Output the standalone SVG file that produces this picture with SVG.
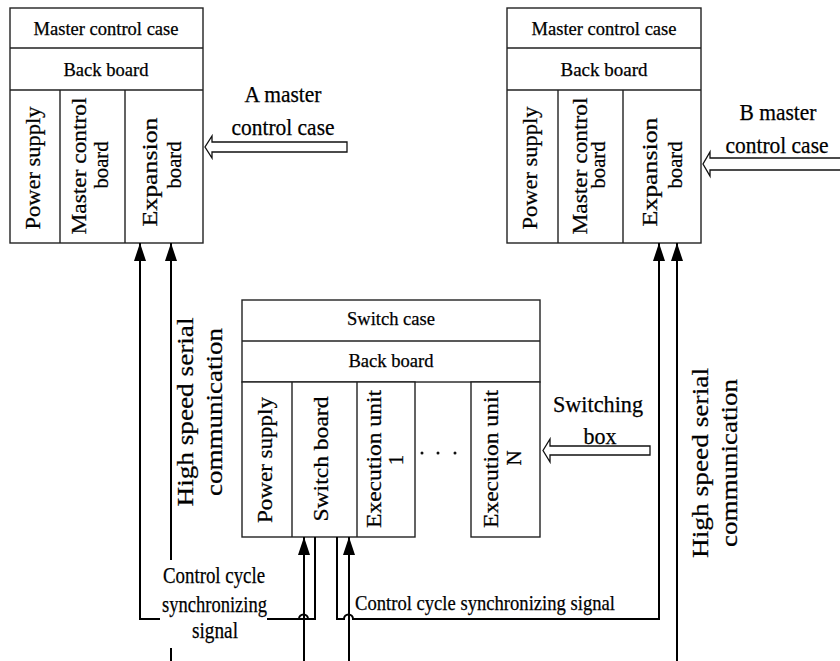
<svg xmlns="http://www.w3.org/2000/svg" width="840" height="661" viewBox="0 0 840 661" font-family="'Liberation Serif', 'Times New Roman', serif">
<defs>
<style>
text{font-family:'Liberation Serif','Times New Roman',serif;fill:#000;stroke:#000;stroke-width:0.25;}
.box{fill:#fff;stroke:#222;stroke-width:1.4;}
.ln{stroke:#222;stroke-width:1.4;fill:none;}
.t18{font-size:19px;text-anchor:middle;}
.tv{font-size:21px;text-anchor:middle;}
.t22{font-size:23px;text-anchor:middle;}
.con{stroke:#000;stroke-width:2;fill:none;}
.hollow{fill:#fff;stroke:#111;stroke-width:1.3;}
</style>
<marker id="ah" markerUnits="userSpaceOnUse" markerWidth="18" markerHeight="12" refX="18" refY="6" orient="auto">
<path d="M0,0 L18,6 L0,12 Z" fill="#000"/>
</marker>
</defs>
<rect width="840" height="661" fill="#fff"/>

<g id="masterA">
<rect class="box" x="10" y="8" width="193" height="235"/>
<path class="ln" d="M10,48 H203 M10,90 H203 M60,90 V243 M125,90 V243"/>
<text class="t18" x="106" y="35" textLength="145" lengthAdjust="spacingAndGlyphs">Master control case</text>
<text class="t18" x="106" y="76" textLength="85" lengthAdjust="spacingAndGlyphs">Back board</text>
<text class="tv" transform="translate(40,168) rotate(-90)" textLength="123" lengthAdjust="spacingAndGlyphs">Power supply</text>
<text class="tv" transform="translate(86,166) rotate(-90)" textLength="137" lengthAdjust="spacingAndGlyphs">Master control</text>
<text class="tv" transform="translate(108,165) rotate(-90)" textLength="47" lengthAdjust="spacingAndGlyphs">board</text>
<text class="tv" transform="translate(157,172) rotate(-90)" textLength="109" lengthAdjust="spacingAndGlyphs">Expansion</text>
<text class="tv" transform="translate(181,165) rotate(-90)" textLength="47" lengthAdjust="spacingAndGlyphs">board</text>
</g>

<g id="masterB">
<rect class="box" x="507" y="8" width="194" height="235"/>
<path class="ln" d="M507,48 H701 M507,90 H701 M558,90 V243 M623,90 V243"/>
<text class="t18" x="604" y="35" textLength="145" lengthAdjust="spacingAndGlyphs">Master control case</text>
<text class="t18" x="604" y="76" textLength="87" lengthAdjust="spacingAndGlyphs">Back board</text>
<text class="tv" transform="translate(537,168) rotate(-90)" textLength="123" lengthAdjust="spacingAndGlyphs">Power supply</text>
<text class="tv" transform="translate(587,166) rotate(-90)" textLength="137" lengthAdjust="spacingAndGlyphs">Master control</text>
<text class="tv" transform="translate(605,165) rotate(-90)" textLength="47" lengthAdjust="spacingAndGlyphs">board</text>
<text class="tv" transform="translate(657,172) rotate(-90)" textLength="109" lengthAdjust="spacingAndGlyphs">Expansion</text>
<text class="tv" transform="translate(682,165) rotate(-90)" textLength="47" lengthAdjust="spacingAndGlyphs">board</text>
</g>

<g id="switchCase">
<rect class="box" x="242" y="300" width="298" height="82"/>
<path class="ln" d="M242,341 H540"/>
<rect class="box" x="242" y="382" width="173" height="155"/>
<path class="ln" d="M292,382 V537 M357,382 V537"/>
<rect class="box" x="471" y="382" width="69" height="155"/>
<text class="t18" x="391" y="325" textLength="88" lengthAdjust="spacingAndGlyphs">Switch case</text>
<text class="t18" x="391" y="367" textLength="85" lengthAdjust="spacingAndGlyphs">Back board</text>
<text class="tv" transform="translate(272,460) rotate(-90)" textLength="126" lengthAdjust="spacingAndGlyphs">Power supply</text>
<text class="tv" transform="translate(328,459) rotate(-90)" textLength="125" lengthAdjust="spacingAndGlyphs">Switch board</text>
<text class="tv" transform="translate(381,459) rotate(-90)" textLength="138" lengthAdjust="spacingAndGlyphs">Execution unit</text>
<text class="tv" transform="translate(403,460) rotate(-90)">1</text>
<text class="tv" transform="translate(498,459) rotate(-90)" textLength="138" lengthAdjust="spacingAndGlyphs">Execution unit</text>
<text class="tv" transform="translate(521,458) rotate(-90)">N</text>
<circle cx="422" cy="453" r="1.5" fill="#111"/>
<circle cx="438" cy="453" r="1.5" fill="#111"/>
<circle cx="455" cy="453" r="1.5" fill="#111"/>
</g>

<g id="labelA">
<path class="hollow" d="M347,142 L212,142 L212,136 L205,147 L212,158 L212,152 L347,152 Z"/>
<text class="t22" x="283" y="102" textLength="77" lengthAdjust="spacingAndGlyphs">A master</text>
<text class="t22" x="283" y="135" textLength="103" lengthAdjust="spacingAndGlyphs">control case</text>
</g>

<g id="labelB">
<path class="hollow" d="M846,158 L710,158 L710,152 L703,164 L710,176 L710,170 L846,170 Z"/>
<text class="t22" x="778" y="120" textLength="77" lengthAdjust="spacingAndGlyphs">B master</text>
<text class="t22" x="777" y="153" textLength="103" lengthAdjust="spacingAndGlyphs">control case</text>
</g>

<g id="labelSwitch">
<path class="hollow" d="M650,446 L550,446 L550,439 L543,450.5 L550,462 L550,455 L650,455 Z"/>
<text class="t22" x="598" y="412" textLength="90" lengthAdjust="spacingAndGlyphs">Switching</text>
<text class="t22" x="600" y="444" textLength="33" lengthAdjust="spacingAndGlyphs">box</text>
</g>

<g id="connectors">
<path class="con" d="M315,537 V619 H267" />
<path class="con" d="M160,619 H140 V243" marker-end="url(#ah)"/>
<path class="con" d="M171,661 V648"/>
<path class="con" d="M171,560 V243" marker-end="url(#ah)"/>
<path class="con" d="M304,661 V537" marker-end="url(#ah)"/>
<path class="con" d="M349,661 V537" marker-end="url(#ah)"/>
<path class="con" d="M267,619 H299 A4.5,4.5 0 0 1 308,619 H315"/>
<path class="con" d="M337,537 V619 H344 A4.5,4.5 0 0 1 353,619 H659 V243" marker-end="url(#ah)"/>
<path class="con" d="M677,661 V243" marker-end="url(#ah)"/>
</g>

<g id="labelHS1">
<text class="t22" transform="translate(193,412) rotate(-90)" textLength="189" lengthAdjust="spacingAndGlyphs">High speed serial</text>
<text class="t22" transform="translate(222,412) rotate(-90)" textLength="168" lengthAdjust="spacingAndGlyphs">communication</text>
</g>
<g id="labelHS2">
<text class="t22" transform="translate(708,463) rotate(-90)" textLength="190" lengthAdjust="spacingAndGlyphs">High speed serial</text>
<text class="t22" transform="translate(737,463) rotate(-90)" textLength="168" lengthAdjust="spacingAndGlyphs">communication</text>
</g>
<g id="labelCC1">
<text class="t22" x="214" y="583" textLength="102" lengthAdjust="spacingAndGlyphs">Control cycle</text>
<text class="t22" x="214.5" y="612" textLength="105" lengthAdjust="spacingAndGlyphs">synchronizing</text>
<text class="t22" x="215" y="638" textLength="46" lengthAdjust="spacingAndGlyphs">signal</text>
</g>
<g id="labelCC2">
<text x="355" y="610" style="font-size:22px" textLength="260" lengthAdjust="spacingAndGlyphs">Control cycle synchronizing signal</text>
</g>
</svg>
